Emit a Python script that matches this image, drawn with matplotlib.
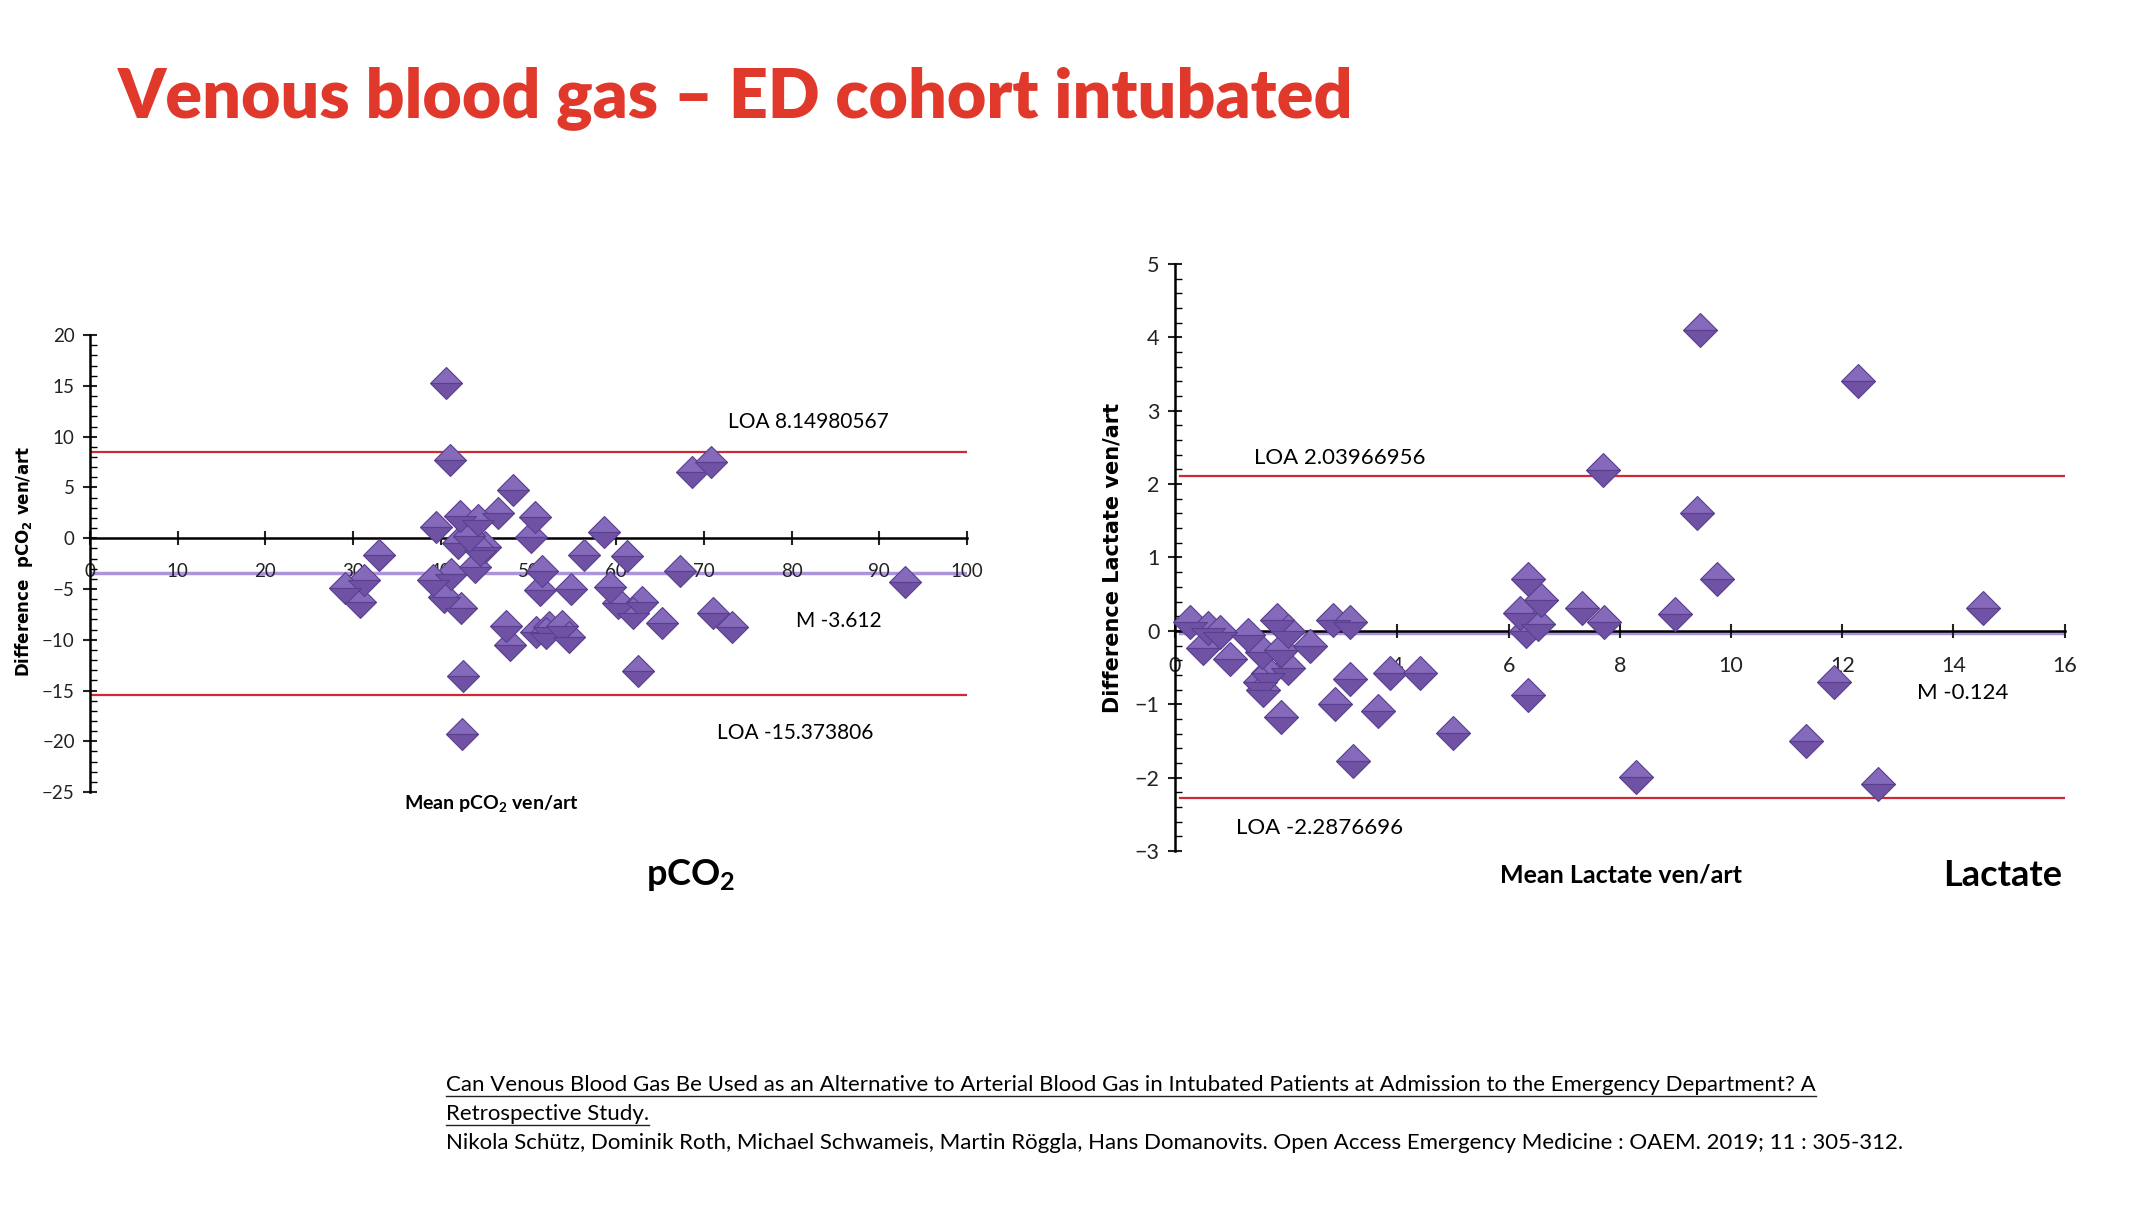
# plot.py
# Venous vs arterial blood gas - Bland-Altman plots (pCO2 and lactate)

import matplotlib
matplotlib.use("Agg")
import matplotlib.pyplot as plt
from matplotlib.ticker import MultipleLocator
from matplotlib.lines import Line2D

plt.rcParams["font.family"] = ["Lato", "DejaVu Sans"]
plt.rcParams["mathtext.default"] = "regular"

# pCO2 data (mean ven/art, difference ven/art)
pco2_mean = [40.6, 41.1, 68.6, 70.8, 48.2, 46.5, 42.2, 44.2, 50.7, 39.5,
             50.3, 58.6, 42.0, 45.0, 32.9, 56.3, 61.2, 43.9, 67.3, 51.5,
             41.2, 31.2, 39.1, 29.1, 51.3, 54.8, 59.3, 40.4, 30.8, 60.2,
             62.9, 61.9, 42.3, 65.2, 71.0, 73.2, 47.4, 47.9, 50.9, 52.3,
             52.0, 53.8, 54.6, 42.5, 62.5, 42.4, 92.9, 44.5, 43.2]
pco2_diff = [15.3, 7.75, 6.5, 7.5, 4.7, 2.5, 2.2, 1.8, 2.1, 1.1,
             0.1, 0.6, -0.5, -0.85, -1.7, -1.7, -1.8, -2.8, -3.2, -3.2,
             -3.5, -4.1, -4.1, -4.9, -5.1, -5.0, -4.8, -5.8, -6.3, -6.4,
             -6.3, -7.4, -6.9, -8.4, -7.4, -8.7, -8.6, -10.5, -9.2, -8.7,
             -9.3, -8.6, -9.7, -13.6, -13.1, -19.3, -4.3, -1.2, 0.2]
pco2_loa_up = 8.5
pco2_mean_line = -3.4
pco2_loa_low = -15.4

# lactate data (mean ven/art, difference ven/art)
lac_mean = [0.27, 0.6, 0.81, 0.51, 0.99, 1.32, 1.56, 1.83, 2.04, 1.9,
            2.43, 2.04, 1.68, 1.53, 1.59, 1.9, 2.85, 3.15, 3.15, 2.88,
            3.21, 3.65, 3.86, 4.4, 5.0, 6.35, 6.59, 6.2, 6.32, 6.53,
            6.35, 7.32, 7.72, 7.7, 9.44, 12.29, 9.39, 9.75, 9.0, 14.54,
            11.85, 11.34, 8.29, 12.64]
lac_diff = [0.12, 0.04, -0.02, -0.23, -0.39, -0.05, -0.29, 0.15, 0.0, -0.26,
            -0.2, -0.5, -0.58, -0.69, -0.8, -1.17, 0.15, 0.12, -0.66, -0.99,
            -1.77, -1.09, -0.58, -0.58, -1.39, 0.71, 0.42, 0.25, 0.0, 0.1,
            -0.88, 0.31, 0.12, 2.19, 4.1, 3.4, 1.6, 0.71, 0.23, 0.31,
            -0.69, -1.5, -1.99, -2.09]
lac_loa_up = 2.11
lac_mean_line = -0.03
lac_loa_low = -2.28

DOT_TOP = "#8569bb"
DOT_BOT = "#6f52a4"
DOT_EDGE = "#5a3f8e"
RED = "#cc2a36"
MEAN_C = "#9c82d6"

fig = plt.figure(figsize=(21.44, 12.12), dpi=100)

# title
fig.text(0.055, 0.919, "Venous blood gas \u2013 ED cohort intubated",
         color="#e0392b", fontsize=49, fontweight="heavy", va="center")


def style_axis(ax, xmax, xstep, ymin, ymax, ystep, yminor, fs):
    ax.set_xlim(0, xmax)
    ax.set_ylim(ymin, ymax)
    ax.spines["top"].set_visible(False)
    ax.spines["right"].set_visible(False)
    ax.spines["bottom"].set_position(("data", 0))
    ax.spines["bottom"].set_linewidth(1.8)
    ax.spines["left"].set_linewidth(1.8)
    ax.xaxis.set_major_locator(MultipleLocator(xstep))
    ax.yaxis.set_major_locator(MultipleLocator(ystep))
    ax.yaxis.set_minor_locator(MultipleLocator(yminor))
    ax.tick_params(axis="x", which="major", direction="inout", length=10,
                   width=1.5, pad=13, labelsize=fs, colors="#222222")
    ax.tick_params(axis="y", which="major", direction="inout", length=10,
                   width=1.5, pad=6, labelsize=fs, colors="#222222")
    ax.tick_params(axis="y", which="minor", direction="in", length=5,
                   width=1.0)
    ax.patch.set_alpha(0)


def diamonds(ax, x, y, ms):
    ax.plot(x, y, "D", ms=ms, fillstyle="top", color=DOT_TOP,
            markerfacecoloralt=DOT_BOT, mec=DOT_EDGE, mew=0.8,
            zorder=3, clip_on=False)


# ---- left panel: pCO2
ax1 = fig.add_axes([0.042, 0.3465, 0.409, 0.377])
style_axis(ax1, 100, 10, -25, 20, 5, 1, 13.5)
ax1.axhline(pco2_loa_up, color=RED, lw=1.6, zorder=1)
ax1.axhline(pco2_loa_low, color=RED, lw=1.6, zorder=1)
ax1.axhline(pco2_mean_line, color=MEAN_C, lw=2.5, alpha=0.85, zorder=1)
diamonds(ax1, pco2_mean, pco2_diff, 16)
ax1.text(72.8, 11.4, "LOA 8.14980567", fontsize=15, va="center")
ax1.text(80.5, -8.2, "M -3.612", fontsize=15, va="center")
ax1.text(71.5, -19.2, "LOA -15.373806", fontsize=15, va="center")

fig.text(0.011, 0.537, "Difference  pCO$_2$ ven/art", rotation=90,
         family="DejaVu Sans", fontweight="bold", fontsize=12,
         ha="center", va="center")
fig.text(0.229, 0.337, "Mean pCO$_2$ ven/art", fontsize=14,
         fontweight="bold", ha="center", va="center")
fig.text(0.322, 0.278, "pCO$_2$", fontsize=26, fontweight="bold",
         ha="center", va="center")

# ---- right panel: lactate
ax2 = fig.add_axes([0.548, 0.2978, 0.415, 0.4845])
style_axis(ax2, 16, 2, -3, 5, 1, 0.2, 15.5)
ax2.plot([0.1, 16], [lac_loa_up, lac_loa_up], color=RED, lw=1.6, zorder=1)
ax2.plot([0.1, 16], [lac_loa_low, lac_loa_low], color=RED, lw=1.6, zorder=1)
ax2.plot([0.1, 16], [lac_mean_line, lac_mean_line], color=MEAN_C, lw=2.5,
         alpha=0.85, zorder=1)
diamonds(ax2, lac_mean, lac_diff, 17)
ax2.text(1.42, 2.36, "LOA 2.03966956", fontsize=16, va="center")
ax2.text(13.35, -0.85, "M -0.124", fontsize=16, va="center")
ax2.text(1.1, -2.68, "LOA -2.2876696", fontsize=16, va="center")

fig.text(0.519, 0.54, "Difference Lactate ven/art", rotation=90,
         family="DejaVu Sans", fontweight="bold", fontsize=15,
         ha="center", va="center")
fig.text(0.756, 0.278, "Mean Lactate ven/art", fontsize=18,
         fontweight="bold", ha="center", va="center")
fig.text(0.934, 0.278, "Lactate", fontsize=26, fontweight="bold",
         ha="center", va="center")

# ---- citation
cite1 = fig.text(0.208, 0.100,
                 "Can Venous Blood Gas Be Used as an Alternative to Arterial "
                 "Blood Gas in Intubated Patients at Admission to the "
                 "Emergency Department? A", fontsize=16, va="baseline")
cite2 = fig.text(0.208, 0.076, "Retrospective Study.", fontsize=16,
                 va="baseline")
fig.text(0.208, 0.052,
         "Nikola Sch\u00fctz, Dominik Roth, Michael Schwameis, Martin "
         "R\u00f6ggla, Hans Domanovits. Open Access Emergency Medicine : "
         "OAEM. 2019; 11 : 305-312.", fontsize=16, va="baseline")

# underline the article title
fig.canvas.draw()
inv = fig.transFigure.inverted()
for t in (cite1, cite2):
    bb = t.get_window_extent()
    (x0, y0), (x1, _) = inv.transform([(bb.x0, bb.y0), (bb.x1, bb.y1)])
    ybase = t.get_position()[1] - 0.004
    fig.add_artist(Line2D([x0, x1], [ybase, ybase], color="#222222",
                          lw=1.0, transform=fig.transFigure))

fig.savefig("out.png", dpi=100, facecolor="white")
